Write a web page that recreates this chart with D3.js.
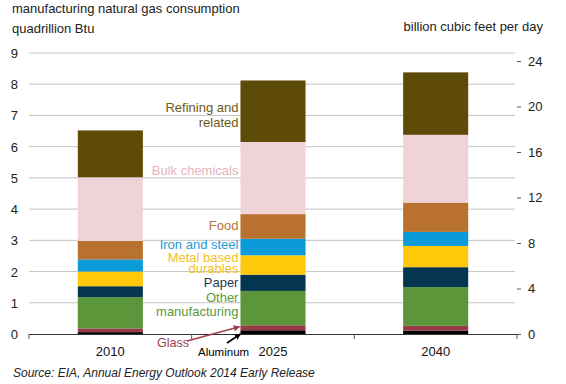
<!DOCTYPE html>
<html>
<head>
<meta charset="utf-8">
<script src="https://cdn.jsdelivr.net/npm/d3@7"></script>
<style>
  body { margin: 0; background: #fff; }
  svg { font-family: "Liberation Sans", Arial, sans-serif; }
</style>
</head>
<body>
<div id="chart"></div>
<script>
// data, quadrillion Btu, stacked bottom-up
const years = ['2010', '2025', '2040'];
const sectors = ['Aluminum', 'Glass', 'Other manufacturing', 'Paper', 'Metal based durables',
    'Iron and steel', 'Food', 'Bulk chemicals', 'Refining and related'];
const aluminum = [0.06, 0.12, 0.11];
const glass = [0.12, 0.16, 0.15];
const otherMfg = [1.00, 1.10, 1.24];
const paper = [0.35, 0.52, 0.64];
const metalDurables = [0.47, 0.62, 0.68];
const ironSteel = [0.39, 0.53, 0.45];
const food = [0.59, 0.79, 0.94];
const bulkChem = [2.04, 2.31, 2.17];
const refining = [1.50, 1.97, 2.00];
const leftTicks = [0, 1, 2, 3, 4, 5, 6, 7, 8, 9];
const rightTicks = [0, 4, 8, 12, 16, 20, 24];
const bcfPerQuad = 2.745; // billion cubic feet per day per quad/yr

const seriesVals = [aluminum, glass, otherMfg, paper, metalDurables, ironSteel, food, bulkChem, refining];
const barColors = ['#000000', '#983a45', '#5b963a', '#04364f', '#ffc80a', '#0a9bd8', '#b97130', '#efd3d7', '#5f4b08'];
const textColors = ['#000000', '#a0404f', '#5c9a3a', '#1f3a55', '#f2c21a', '#1e9ad6', '#b87333', '#e8b2bc', '#6e5a16'];

const width = 566, height = 384;
const x0 = 29, x1 = 517, yBottom = 334, yTop = 53;

const svg = d3.select('#chart').append('svg')
    .attr('width', width)
    .attr('height', height);

const x = d3.scaleBand().domain(years).range([x0, x1]).paddingInner(0.6).paddingOuter(0.3);
const y = d3.scaleLinear().domain([0, 9]).range([yBottom, yTop]);
const yR = d3.scaleLinear().domain([0, 9 * bcfPerQuad]).range([yBottom, yTop]);

// table for stacking
const table = years.map((yr, i) => {
    const row = { year: yr };
    sectors.forEach((s, k) => row[s] = seriesVals[k][i]);
    return row;
});
const stacked = d3.stack().keys(sectors)(table);

// gridlines
svg.append('g')
    .selectAll('line')
    .data(leftTicks.filter(d => d > 0))
    .enter()
    .append('line')
    .attr('x1', x0).attr('x2', x1 - 2)
    .attr('y1', d => y(d)).attr('y2', d => y(d))
    .attr('stroke', '#c4c4c4')
    .attr('stroke-width', 1);

// left axis labels
svg.append('g')
    .selectAll('text')
    .data(leftTicks)
    .enter()
    .append('text')
    .attr('x', 18)
    .attr('y', d => y(d) + 5)
    .attr('text-anchor', 'end')
    .style('font-size', '13px')
    .attr('fill', '#222')
    .text(d => d);

// right axis
const rAxis = svg.append('g').attr('transform', `translate(${x1}, 0)`)
    .call(d3.axisRight(yR).tickValues(rightTicks).tickSize(4).tickPadding(7));
rAxis.select('.domain').remove();
rAxis.selectAll('line').attr('stroke', '#555');
rAxis.selectAll('text').style('font-size', '13px').attr('fill', '#222')
    .style('font-family', '"Liberation Sans", Arial, sans-serif');

// bars
svg.append('g')
    .selectAll('g')
    .data(stacked)
    .enter()
    .append('g')
    .attr('fill', (d, i) => barColors[i])
    .selectAll('rect')
    .data(d => d)
    .enter()
    .append('rect')
    .attr('x', d => x(d.data.year))
    .attr('width', x.bandwidth())
    .attr('y', d => y(d[1]))
    .attr('height', d => y(d[0]) - y(d[1]));

// baseline + category ticks
svg.append('line')
    .attr('x1', x0).attr('x2', x1)
    .attr('y1', yBottom + 0.5).attr('y2', yBottom + 0.5)
    .attr('stroke', '#333').attr('stroke-width', 1.2);
const bounds = [x0, x0 + x.step() * 1, x0 + x.step() * 2, x1];
svg.append('g').selectAll('line').data(bounds).enter().append('line')
    .attr('x1', d => d).attr('x2', d => d)
    .attr('y1', yBottom).attr('y2', yBottom + 5)
    .attr('stroke', '#555');

// year labels
svg.append('g').selectAll('text').data(years).enter().append('text')
    .attr('x', d => x(d) + x.bandwidth() / 2)
    .attr('y', 356)
    .attr('text-anchor', 'middle')
    .style('font-size', '13px')
    .attr('fill', '#111')
    .text(d => d);

// in-chart labels, right-aligned against the 2025 bar
const labelLayout = [
    { k: 8, lines: ['Refining and', 'related'], ys: [111.5, 126.5] },
    { k: 7, lines: ['Bulk chemicals'], ys: [175] },
    { k: 6, lines: ['Food'], ys: [230] },
    { k: 5, lines: ['Iron and steel'], ys: [248.5] },
    { k: 4, lines: ['Metal based', 'durables'], ys: [261.5, 272.5] },
    { k: 3, lines: ['Paper'], ys: [286.5] },
    { k: 2, lines: ['Other', 'manufacturing'], ys: [301.5, 316] }
];
const labelX = x('2025') - 2;
labelLayout.forEach(l => {
    l.lines.forEach((t, j) => {
        svg.append('text')
            .attr('x', labelX)
            .attr('y', l.ys[j])
            .attr('text-anchor', 'end')
            .style('font-size', '13px')
            .attr('fill', textColors[l.k])
            .text(t);
    });
});

// arrows for glass and aluminum
const defs = svg.append('defs');
[['glassHead', textColors[1]], ['alHead', '#000']].forEach(([id, c]) => {
    defs.append('marker')
        .attr('id', id)
        .attr('viewBox', '0 0 10 10')
        .attr('refX', 9).attr('refY', 5)
        .attr('markerWidth', 4).attr('markerHeight', 4)
        .attr('orient', 'auto')
        .append('path')
        .attr('d', 'M0,0 L10,5 L0,10 z')
        .attr('fill', c);
});
const x25 = x('2025');
svg.append('line')
    .attr('x1', 187).attr('y1', 341)
    .attr('x2', x25 - 1).attr('y2', y(aluminum[1] + glass[1] / 2) - 1)
    .attr('stroke', textColors[1]).attr('stroke-width', 1.6)
    .attr('marker-end', 'url(#glassHead)');
svg.append('text')
    .attr('x', 157).attr('y', 347)
    .style('font-size', '12.5px')
    .attr('fill', textColors[1])
    .text('Glass');
svg.append('line')
    .attr('x1', 227).attr('y1', 343)
    .attr('x2', x25).attr('y2', yBottom)
    .attr('stroke', '#000').attr('stroke-width', 1.6)
    .attr('marker-end', 'url(#alHead)');
svg.append('text')
    .attr('x', 198).attr('y', 356)
    .style('font-size', '11.5px')
    .attr('fill', '#000')
    .text('Aluminum');

// titles
svg.append('text').attr('x', 12).attr('y', 12.5)
    .style('font-size', '13px').attr('fill', '#222')
    .text('manufacturing natural gas consumption');
svg.append('text').attr('x', 12).attr('y', 32.5)
    .style('font-size', '13px').attr('fill', '#222')
    .text('quadrillion Btu');
svg.append('text').attr('x', 543).attr('y', 31)
    .attr('text-anchor', 'end')
    .style('font-size', '13px').attr('fill', '#222')
    .text('billion cubic feet per day');

// source
svg.append('text').attr('x', 13).attr('y', 377)
    .style('font-size', '12px').style('font-style', 'italic').attr('fill', '#222')
    .text('Source: EIA, Annual Energy Outlook 2014 Early Release');
</script>
</body>
</html>
